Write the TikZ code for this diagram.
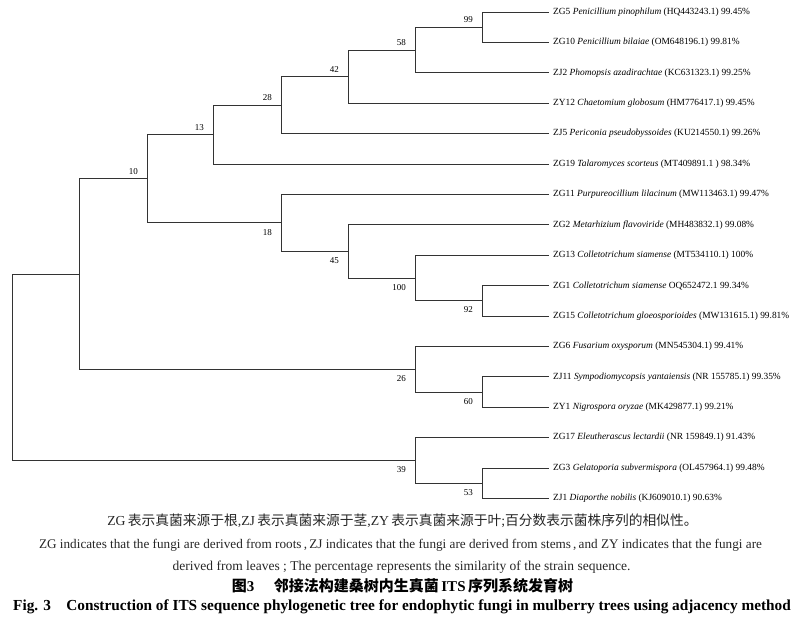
\documentclass[tikz,border=0pt]{standalone}
\usepackage{fontspec}
\setmainfont{Liberation Serif}
\newfontfamily\cjk{Noto Sans CJK SC}
\usepackage{xcolor}
\usetikzlibrary{positioning}

\begin{document}
\begin{tikzpicture}[x = 1bp, y = -1bp,
  branch/.style = {line width = 0.9bp, black!80},
  leaf/.style = {anchor = west, inner xsep = 4bp, inner ysep = 0pt,
    font = \fontsize{9.4bp}{10bp}\selectfont},
  bootup/.style = {anchor = south east, inner sep = 0pt, xshift = -9bp,
    yshift = 4bp, font = \fontsize{9bp}{10bp}\selectfont},
  bootdown/.style = {anchor = north east, inner sep = 0pt, xshift = -9bp,
    yshift = -6bp, font = \fontsize{9bp}{10bp}\selectfont},
  note/.style = {inner sep = 0pt, black!85}]
  \useasboundingbox (0, 0) rectangle (803, 628);

  % inner nodes of the tree
  \coordinate (root) at (12, 367.2);
  \coordinate (nA) at (79, 274.0);
  \coordinate (n10) at (147, 178.7);
  \coordinate (n13) at (213, 134.6);
  \coordinate (n28) at (281, 105.1);
  \coordinate (n42) at (348, 76.6);
  \coordinate (n58) at (415, 50.0);
  \coordinate (n99) at (482, 27.2);
  \coordinate (n18) at (281, 222.9);
  \coordinate (n45) at (348, 251.4);
  \coordinate (n100) at (415, 278.0);
  \coordinate (n92) at (482, 300.8);
  \coordinate (n26) at (415, 369.2);
  \coordinate (n60) at (482, 392.0);
  \coordinate (n39) at (415, 460.4);
  \coordinate (n53) at (482, 483.2);

  % leaves
  \node[leaf] (ZG5) at (549, 12.0){
    ZG5 \textit{Penicillium pinophilum} (HQ443243.1) 99.45\%
  };
  \node[leaf] (ZG10) at (549, 42.4){
    ZG10 \textit{Penicillium bilaiae} (OM648196.1) 99.81\%
  };
  \node[leaf] (ZJ2) at (549, 72.8){
    ZJ2 \textit{Phomopsis azadirachtae} (KC631323.1) 99.25\%
  };
  \node[leaf] (ZY12) at (549, 103.2){
    ZY12 \textit{Chaetomium globosum} (HM776417.1) 99.45\%
  };
  \node[leaf] (ZJ5) at (549, 133.6){
    ZJ5 \textit{Periconia pseudobyssoides} (KU214550.1) 99.26\%
  };
  \node[leaf] (ZG19) at (549, 164.0){
    ZG19 \textit{Talaromyces scorteus} (MT409891.1 ) 98.34\%
  };
  \node[leaf] (ZG11) at (549, 194.4){
    ZG11 \textit{Purpureocillium lilacinum} (MW113463.1) 99.47\%
  };
  \node[leaf] (ZG2) at (549, 224.8){
    ZG2 \textit{Metarhizium flavoviride} (MH483832.1) 99.08\%
  };
  \node[leaf] (ZG13) at (549, 255.2){
    ZG13 \textit{Colletotrichum siamense} (MT534110.1) 100\%
  };
  \node[leaf] (ZG1) at (549, 285.6){
    ZG1 \textit{Colletotrichum siamense} OQ652472.1 99.34\%
  };
  \node[leaf] (ZG15) at (549, 316.0){
    ZG15 \textit{Colletotrichum gloeosporioides} (MW131615.1) 99.81\%
  };
  \node[leaf] (ZG6) at (549, 346.4){
    ZG6 \textit{Fusarium oxysporum} (MN545304.1) 99.41\%
  };
  \node[leaf] (ZJ11) at (549, 376.8){
    ZJ11 \textit{Sympodiomycopsis yantaiensis} (NR 155785.1) 99.35\%
  };
  \node[leaf] (ZY1) at (549, 407.2){
    ZY1 \textit{Nigrospora oryzae} (MK429877.1) 99.21\%
  };
  \node[leaf] (ZG17) at (549, 437.6){
    ZG17 \textit{Eleutherascus lectardii} (NR 159849.1) 91.43\%
  };
  \node[leaf] (ZG3) at (549, 468.0){
    ZG3 \textit{Gelatoporia subvermispora} (OL457964.1) 99.48\%
  };
  \node[leaf] (ZJ1) at (549, 498.4){
    ZJ1 \textit{Diaporthe nobilis} (KJ609010.1) 90.63\%
  };

  % bootstrap values
  \node[bootup] (b10) at (n10){10};
  \node[bootup] (b13) at (n13){13};
  \node[bootup] (b28) at (n28){28};
  \node[bootup] (b42) at (n42){42};
  \node[bootup] (b58) at (n58){58};
  \node[bootup] (b99) at (n99){99};
  \node[bootdown] (b18) at (n18){18};
  \node[bootdown] (b45) at (n45){45};
  \node[bootdown] (b100) at (n100){100};
  \node[bootdown] (b92) at (n92){92};
  \node[bootdown] (b26) at (n26){26};
  \node[bootdown] (b60) at (n60){60};
  \node[bootdown] (b39) at (n39){39};
  \node[bootdown] (b53) at (n53){53};

  % branches
  \draw[branch] (root) |- (nA);
  \draw[branch] (root) |- (n39);
  \draw[branch] (nA) |- (n10);
  \draw[branch] (nA) |- (n26);
  \draw[branch] (n10) |- (n13);
  \draw[branch] (n10) |- (n18);
  \draw[branch] (n13) |- (n28);
  \draw[branch] (n13) |- (ZG19.west);
  \draw[branch] (n28) |- (n42);
  \draw[branch] (n28) |- (ZJ5.west);
  \draw[branch] (n42) |- (n58);
  \draw[branch] (n42) |- (ZY12.west);
  \draw[branch] (n58) |- (n99);
  \draw[branch] (n58) |- (ZJ2.west);
  \draw[branch] (n99) |- (ZG5.west);
  \draw[branch] (n99) |- (ZG10.west);
  \draw[branch] (n18) |- (ZG11.west);
  \draw[branch] (n18) |- (n45);
  \draw[branch] (n45) |- (ZG2.west);
  \draw[branch] (n45) |- (n100);
  \draw[branch] (n100) |- (ZG13.west);
  \draw[branch] (n100) |- (n92);
  \draw[branch] (n92) |- (ZG1.west);
  \draw[branch] (n92) |- (ZG15.west);
  \draw[branch] (n26) |- (ZG6.west);
  \draw[branch] (n26) |- (n60);
  \draw[branch] (n60) |- (ZJ11.west);
  \draw[branch] (n60) |- (ZY1.west);
  \draw[branch] (n39) |- (ZG17.west);
  \draw[branch] (n39) |- (n53);
  \draw[branch] (n53) |- (ZG3.west);
  \draw[branch] (n53) |- (ZJ1.west);

  % caption
  \node[note, font = \fontsize{13.75bp}{15bp}\selectfont] (cnnote) at (402.5, 521){
    ZG\,{\cjk 表示真菌来源于根},ZJ\,{\cjk 表示真菌来源于茎},ZY\,{\cjk 表示真菌来源于叶};{\cjk 百分数表示菌株序列的相似性。}
  };
  \node[note, font = \fontsize{13.2bp}{14bp}\selectfont] (ennote1) at (400.5, 545){
    ZG indicates that the fungi are derived from roots\,,\,ZJ indicates that the fungi are derived from stems\,,\,and ZY indicates that the fungi are
  };
  \node[note, font = \fontsize{13.5bp}{14bp}\selectfont] (ennote2) at (401.5, 567){
    derived from leaves ; The percentage represents the similarity of the strain sequence.
  };
  \node[note, black, font = \fontsize{15bp}{16bp}\selectfont\bfseries] (cntitle) at (402.5, 586){
    {\cjk\bfseries 图}3\hspace{1.3em}{\cjk\bfseries 邻接法构建桑树内生真菌}\,ITS\,{\cjk\bfseries 序列系统发育树}
  };
  \node[note, black, font = \fontsize{15.3bp}{16bp}\selectfont\bfseries] (entitle) at (402, 607){
    Fig. 3\quad Construction of ITS sequence phylogenetic tree for endophytic fungi in mulberry trees using adjacency method
  };
\end{tikzpicture}
\end{document}
